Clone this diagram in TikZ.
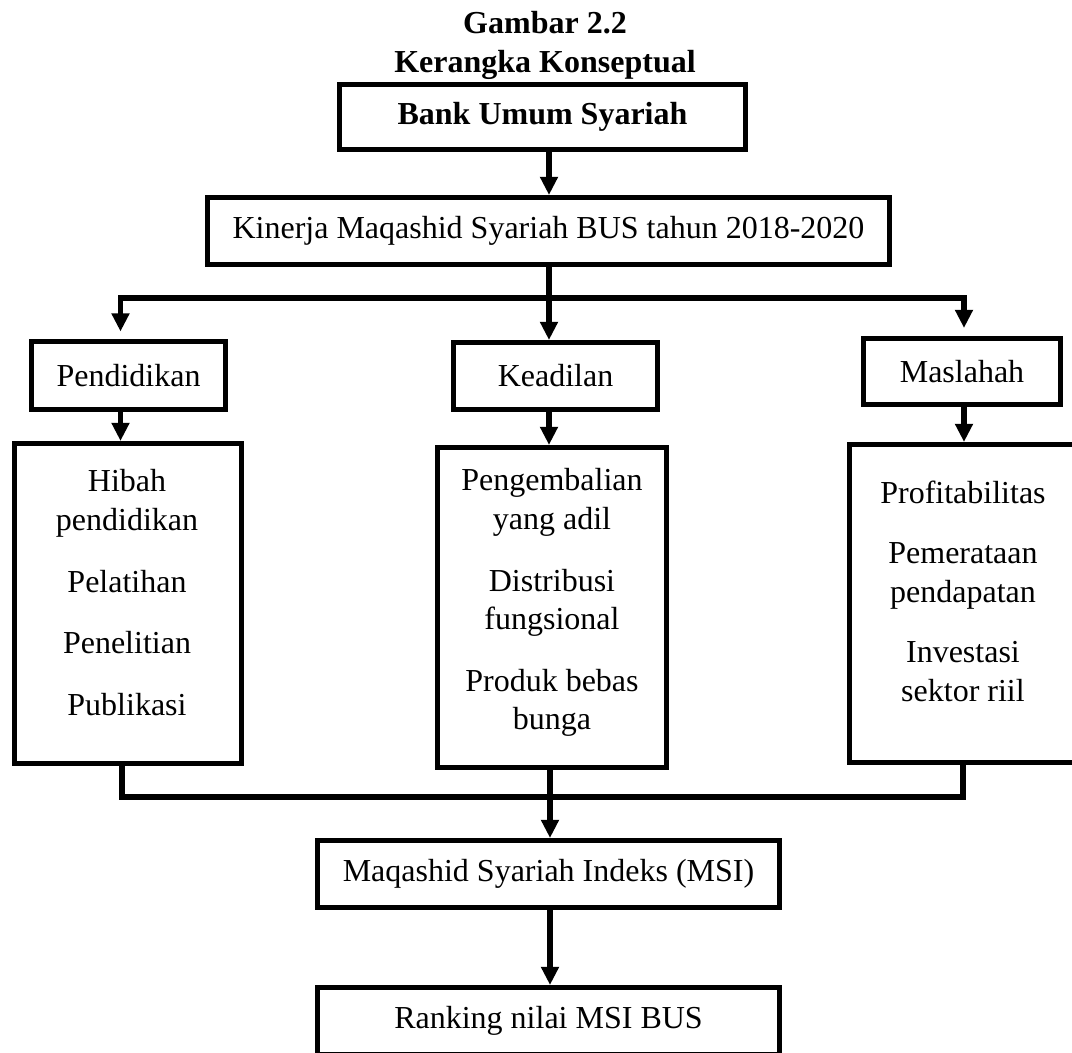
\documentclass[tikz,border=0pt,12pt]{standalone}
\usepackage{fontspec}
\setmainfont{Liberation Serif}
\usetikzlibrary{arrows.meta}

\tikzset{
  box/.style={draw, line width=1.9pt, inner sep=0pt, align=center},
  items/.style={align=center, inner sep=0pt, anchor=north},
  conn/.style={line width=1.9pt},
}

\begin{document}
\begin{tikzpicture}[x=0.375pt,y=-0.375pt, >={Triangle[width=6.4pt,length=6.8pt]}]
\useasboundingbox (0,0) rectangle (1072,1053);
\node[items, font=\bfseries] (title) at (545,11) {Gambar 2.2\\Kerangka Konseptual};

\node[box, font=\bfseries, minimum width=152.25pt, minimum height=24.4pt] (bus) at (542.5,117) {Bank Umum Syariah};
\node[box, minimum width=255.75pt, minimum height=25.1pt] (kinerja) at (548.5,231) {Kinerja Maqashid Syariah BUS tahun 2018-2020};

\node[box, minimum width=72.75pt, minimum height=25.5pt] (pend) at (128.5,375.5) {Pendidikan};
\node[box, minimum width=76.5pt, minimum height=25.1pt] (kead) at (555.5,376) {Keadilan};
\node[box, minimum width=73.9pt, minimum height=24.75pt] (masl) at (962,371.5) {Maslahah};

\node[box, minimum width=85.1pt, minimum height=120pt] (pendbox) at (128,603.5) {};
\node[box, minimum width=85.9pt, minimum height=120pt] (keadbox) at (552,607.5) {};
\node[box, minimum width=85.1pt, minimum height=119.25pt] (maslbox) at (963,603.5) {};
\node[items] (penditems) at (127,469) {Hibah\\pendidikan\\[8.6pt]Pelatihan\\[8.6pt]Penelitian\\[8.6pt]Publikasi};
\node[items] (keaditems) at (552,468) {Pengembalian\\yang adil\\[8.6pt]Distribusi\\fungsional\\[8.6pt]Produk bebas\\bunga};
\node[items] (maslitems) at (963,480) {Profitabilitas\\[8.2pt]Pemerataan\\pendapatan\\[8.2pt]Investasi\\sektor riil};

\node[box, minimum width=173.25pt, minimum height=25.1pt] (msi) at (548.5,874) {Maqashid Syariah Indeks (MSI)};
\node[box, minimum width=173.25pt, minimum height=25.1pt] (rank) at (548.5,1021) {Ranking nilai MSI BUS};

\coordinate (split) at (549,298);
\coordinate (splitL) at (120.5,298);
\coordinate (splitR) at (964,298);
\coordinate (join) at (550,797);
\coordinate (joinL) at (122,797);
\coordinate (joinR) at (963,797);

\draw[conn,->] (bus.south -| split) -- (kinerja.north -| split);
\draw[conn] (kinerja.south -| split) -- (split);
\draw[conn,->,shorten >=2.8pt] (split) -| (splitL |- pend.north);
\draw[conn,->] (split) -- (split |- kead.north);
\draw[conn,->,shorten >=3pt] (split) -| (splitR |- masl.north);

\draw[conn,->] (pend.south -| splitL) -- (pendbox.north -| splitL);
\draw[conn,->] (kead.south -| split) -- (keadbox.north -| split);
\draw[conn,->] (masl.south -| splitR) -- (maslbox.north -| splitR);

\draw[conn] (pendbox.south -| joinL) -- (joinL) -- (joinR) -- (maslbox.south -| joinR);
\draw[conn,->] (keadbox.south -| join) -- (msi.north -| join);
\draw[conn,->] (msi.south -| join) -- (rank.north -| join);
\end{tikzpicture}
\end{document}
